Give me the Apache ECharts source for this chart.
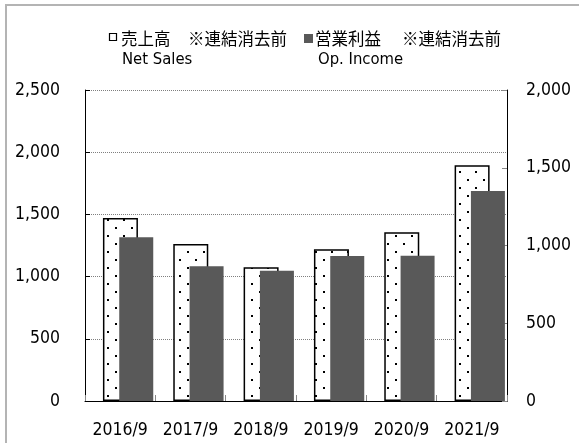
<!DOCTYPE html>
<html>
<head>
<meta charset="utf-8">
<script src="https://cdn.jsdelivr.net/npm/echarts@6/dist/echarts.min.js"></script>
<style>
html,body{margin:0;padding:0;background:#fff;}
#c{width:579px;height:443px;}
</style>
</head>
<body>
<div id="c"></div>
<script>
const categories = ['2016/9', '2017/9', '2018/9', '2019/9', '2020/9', '2021/9'];
const netSales = [1471, 1262, 1075, 1219, 1356, 1895];
const opIncome = [1053, 867, 838, 932, 934, 1350];
const leftAxis = { min: 0, max: 2500, interval: 500 };
const rightAxis = { min: 0, max: 2000, interval: 500 };
const legendJa = ['売上高', '※連結消去前', '営業利益', '※連結消去前'];
const legendEn = ['Net Sales', 'Op. Income'];

const LATIN = '"DejaVu Sans Condensed", "DejaVu Sans", sans-serif';
const CJK = '"Noto Sans CJK JP", sans-serif';

// dotted pattern for net sales bars
const pat = document.createElement('canvas');
pat.width = 16; pat.height = 16;
const pc = pat.getContext('2d');
pc.fillStyle = '#ffffff';
pc.fillRect(0, 0, 16, 16);
pc.fillStyle = '#000000';
pc.fillRect(3, 3, 2, 2);
pc.fillRect(11, 11, 2, 2);

const fmt = v => v.toLocaleString('en-US');

const chart = echarts.init(document.getElementById('c'), null, { renderer: 'canvas' });
chart.setOption({
  animation: false,
  backgroundColor: '#fff',
  grid: { left: 85, right: 72, top: 90, bottom: 42, containLabel: false },
  xAxis: {
    type: 'category',
    data: categories,
    boundaryGap: true,
    axisLine: { show: true, lineStyle: { color: '#000', width: 1 } },
    axisTick: { show: true, inside: true, length: 6, lineStyle: { color: '#888' } },
    axisLabel: { color: '#000', fontFamily: LATIN, fontSize: 17.5, margin: 20, interval: 0 },
    splitLine: { show: false }
  },
  yAxis: [
    {
      type: 'value',
      position: 'left',
      min: leftAxis.min, max: leftAxis.max, interval: leftAxis.interval,
      axisLine: { show: true, lineStyle: { color: '#000', width: 1 } },
      axisTick: { show: true, inside: true, length: 5, lineStyle: { color: '#000' } },
      axisLabel: { color: '#000', fontFamily: LATIN, fontSize: 17.5, margin: 25, formatter: fmt },
      splitLine: { show: true, lineStyle: { color: '#7f7f7f', width: 1, type: [1, 1] } }
    },
    {
      type: 'value',
      position: 'right',
      min: rightAxis.min, max: rightAxis.max, interval: rightAxis.interval,
      axisLine: { show: true, lineStyle: { color: '#000', width: 1 } },
      axisTick: { show: true, inside: true, length: 5, lineStyle: { color: '#888' } },
      axisLabel: { color: '#000', fontFamily: LATIN, fontSize: 17.5, margin: 19, formatter: fmt },
      splitLine: { show: false }
    }
  ],
  series: [
    {
      name: 'spacer', type: 'bar', yAxisIndex: 0,
      data: categories.map(() => '-'),
      barWidth: 34, barGap: '-53.4%', silent: true,
      itemStyle: { color: 'rgba(0,0,0,0)' }
    },
    {
      name: 'Net Sales', type: 'bar', yAxisIndex: 0,
      data: netSales,
      barWidth: 35, barGap: '-53.4%',
      itemStyle: { color: { image: pat, repeat: 'repeat' }, borderColor: '#000', borderWidth: 1.5 }
    },
    {
      name: 'Op. Income', type: 'bar', yAxisIndex: 1,
      data: opIncome,
      barWidth: 34, barGap: '-53.4%',
      itemStyle: { color: '#595959' }
    }
  ],
  graphic: [
    { type: 'rect', silent: true, z: -10, shape: { x: 6, y: 5, width: 700, height: 700 },
      style: { fill: null, stroke: '#b4b4b4', lineWidth: 2 } },
    { type: 'rect', shape: { x: 109.5, y: 33.5, width: 7, height: 7 },
      style: { fill: '#fff', stroke: '#000', lineWidth: 1.2 } },
    { type: 'text', x: 121, y: 39, style: { text: legendJa[0], font: '16.5px ' + CJK, fill: '#000', align: 'left', verticalAlign: 'middle' } },
    { type: 'text', x: 188, y: 39, style: { text: legendJa[1], font: '16.5px ' + CJK, fill: '#000', align: 'left', verticalAlign: 'middle' } },
    { type: 'rect', shape: { x: 304, y: 34, width: 9, height: 9 },
      style: { fill: '#595959' } },
    { type: 'text', x: 315, y: 39, style: { text: legendJa[2], font: '16.5px ' + CJK, fill: '#000', align: 'left', verticalAlign: 'middle' } },
    { type: 'text', x: 402, y: 39, style: { text: legendJa[3], font: '16.5px ' + CJK, fill: '#000', align: 'left', verticalAlign: 'middle' } },
    { type: 'text', x: 122, y: 60, style: { text: legendEn[0], font: '16.5px ' + LATIN, fill: '#000', align: 'left', verticalAlign: 'middle' } },
    { type: 'text', x: 318, y: 60, style: { text: legendEn[1], font: '16.5px ' + LATIN, fill: '#000', align: 'left', verticalAlign: 'middle' } }
  ]
});
</script>
</body>
</html>
